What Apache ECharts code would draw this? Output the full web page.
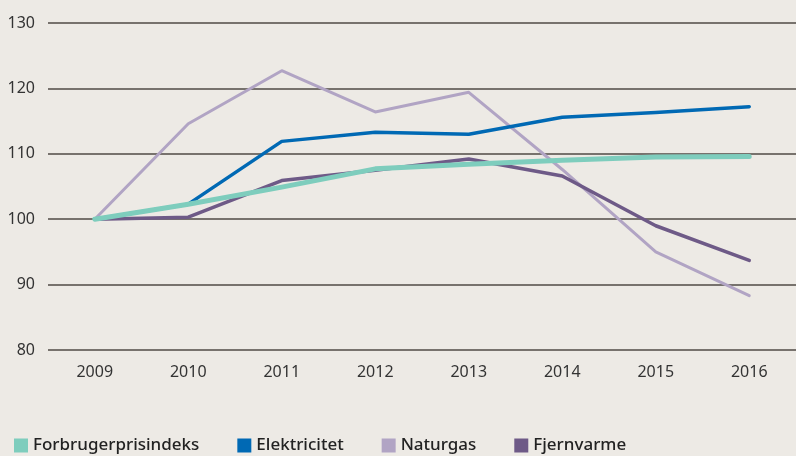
<!DOCTYPE html>
<html>
<head>
<meta charset="utf-8">
<script src="https://cdn.jsdelivr.net/npm/echarts@6/dist/echarts.min.js"></script>
<style>
  html, body { margin: 0; padding: 0; background: #edeae5; }
  #main { width: 796px; height: 456px; }
</style>
</head>
<body>
<div id="main"></div>
<script>
// årstal og indeks (2009 = 100)
const years = ['2009', '2010', '2011', '2012', '2013', '2014', '2015', '2016']
const forbrugerprisindeks = [100, 102.3, 104.9, 107.7, 108.4, 109.0, 109.5, 109.6]
const elektricitet = [100, 102.3, 111.9, 113.3, 113.0, 115.6, 116.3, 117.2]
const naturgas = [100, 114.6, 122.7, 116.4, 119.4, 107.6, 95.0, 88.3]
const fjernvarme = [100, 100.3, 105.9, 107.5, 109.2, 106.6, 99.0, 93.7]

const chart = echarts.init(document.getElementById('main'))
const font = 'Noto Sans'

function line (name, data, color, width, z) {
  return {
    name: name,
    type: 'line',
    data: data,
    symbol: 'none',
    z: z,
    lineStyle: { color: color, width: width, cap: 'round', join: 'round' },
    itemStyle: { color: color }
  }
}

chart.setOption({
  backgroundColor: '#edeae5',
  animation: false,
  textStyle: { fontFamily: font },
  grid: { left: 48, right: -6, top: 23, bottom: 106, containLabel: false },
  legend: {
    left: 9,
    top: 432,
    icon: 'rect',
    itemWidth: 14,
    itemHeight: 14,
    itemGap: 38,
    textStyle: { fontFamily: font, fontSize: 17, color: '#222', fontWeight: 500 },
    data: ['Forbrugerprisindeks', 'Elektricitet', 'Naturgas', 'Fjernvarme']
  },
  xAxis: {
    type: 'category',
    data: years,
    boundaryGap: true,
    axisLine: { show: false },
    axisTick: { show: false },
    axisLabel: { color: '#333', fontSize: 16, fontFamily: font, margin: 14 }
  },
  yAxis: {
    type: 'value',
    min: 80,
    max: 130,
    interval: 10,
    axisLine: { show: false },
    axisTick: { show: false },
    axisLabel: { color: '#333', fontSize: 16, fontFamily: font, margin: 13 },
    splitLine: { lineStyle: { color: '#4f4a45', width: 1.5 } }
  },
  series: [
    line('Naturgas', naturgas, '#b1a4c4', 3, 2),
    line('Elektricitet', elektricitet, '#0069b4', 3.5, 3),
    line('Fjernvarme', fjernvarme, '#6e5a87', 3.5, 4),
    line('Forbrugerprisindeks', forbrugerprisindeks, '#7ecdbd', 5, 5)
  ]
})
</script>
</body>
</html>
